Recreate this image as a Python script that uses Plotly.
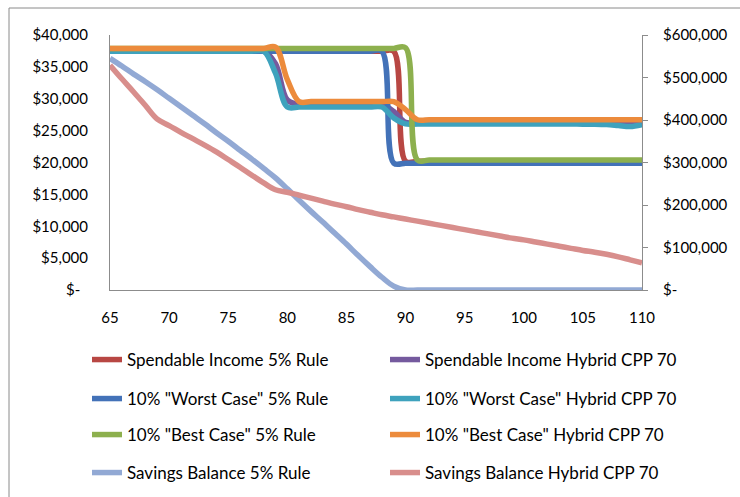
import plotly.graph_objects as go

ages = list(range(65, 111))

# Spendable income lines (left axis, $)
spend_5 = [37450, 37450, 37450, 37450, 37450, 37450, 37450, 37450, 37450, 37450,
           37450, 37450, 37450, 37450, 37450, 37450, 37450, 37450, 37450, 37450,
           37450, 37450, 37450, 37450, 37450, 20200, 20200, 20200, 20200, 20200,
           20200, 20200, 20200, 20200, 20200, 20200, 20200, 20200, 20200, 20200,
           20200, 20200, 20200, 20200, 20200, 20200]
spend_hyb = [37450, 37450, 37450, 37450, 37450, 37450, 37450, 37450, 37450, 37450,
             37450, 37450, 37450, 37450, 35500, 29800, 29100, 29100, 29100, 29100,
             29100, 29100, 29100, 29100, 28000, 26300, 26300, 26300, 26300, 26300,
             26300, 26300, 26300, 26300, 26300, 26300, 26300, 26300, 26300, 26300,
             26300, 26300, 26300, 26300, 26300, 26300]
worst_5 = [37450, 37450, 37450, 37450, 37450, 37450, 37450, 37450, 37450, 37450,
           37450, 37450, 37450, 37450, 37450, 37450, 37450, 37450, 37450, 37450,
           37450, 37450, 37450, 37450, 19900, 19900, 19900, 19900, 19900, 19900,
           19900, 19900, 19900, 19900, 19900, 19900, 19900, 19900, 19900, 19900,
           19900, 19900, 19900, 19900, 19900, 19900]
worst_hyb = [37450, 37450, 37450, 37450, 37450, 37450, 37450, 37450, 37450, 37450,
             37450, 37450, 37450, 37450, 34000, 28700, 28700, 28700, 28700, 28700,
             28700, 28700, 28700, 28700, 27000, 26050, 26050, 26050, 26050, 26050,
             26050, 26050, 26050, 26050, 26050, 26050, 26050, 26050, 26050, 26050,
             26000, 26000, 25950, 25800, 25650, 25950]
best_5 = [37900, 37900, 37900, 37900, 37900, 37900, 37900, 37900, 37900, 37900,
          37900, 37900, 37900, 37900, 37900, 37900, 37900, 37900, 37900, 37900,
          37900, 37900, 37900, 37900, 37900, 38000, 20400, 20400, 20400, 20400,
          20400, 20400, 20400, 20400, 20400, 20400, 20400, 20400, 20400, 20400,
          20400, 20400, 20400, 20400, 20400, 20400]
best_hyb = [37900, 37900, 37900, 37900, 37900, 37900, 37900, 37900, 37900, 37900,
            37900, 37900, 37900, 37900, 38100, 33000, 29550, 29550, 29550, 29550,
            29550, 29550, 29550, 29550, 29550, 28300, 26700, 26700, 26700, 26700,
            26700, 26700, 26700, 26700, 26700, 26700, 26700, 26700, 26700, 26700,
            26700, 26700, 26700, 26700, 26700, 26700]

# Savings balances (right axis, $)
savings_5 = [545000, 527000, 508000, 490000, 471000, 451000, 431000, 411000, 391000, 370000,
             350000, 329000, 308000, 286000, 264000, 238000, 211000, 185000, 160000, 134000,
             108000, 81000, 55000, 30000, 9000, 0, 0, 0, 0, 0,
             0, 0, 0, 0, 0, 0, 0, 0, 0, 0,
             0, 0, 0, 0, 0, 0]
savings_hyb = [529000, 497000, 466000, 434000, 402000, 387000, 371000, 356000, 341000, 325000,
               307000, 289000, 270000, 252000, 236000, 230000, 223000, 216000, 209000, 202000,
               196000, 189000, 183000, 177000, 172000, 167000, 162000, 157000, 152000, 147000,
               142000, 137000, 132000, 127000, 122000, 118000, 113000, 108000, 103000, 98000,
               93000, 89000, 84000, 78000, 71000, 64000]

names = ['Spendable Income 5% Rule', 'Spendable Income Hybrid CPP 70',
         '10% "Worst Case" 5% Rule', '10% "Worst Case" Hybrid CPP 70',
         '10% "Best Case" 5% Rule', '10% "Best Case" Hybrid CPP 70',
         'Savings Balance 5% Rule', 'Savings Balance Hybrid CPP 70']
colors = ['#B84743', '#755A9E', '#4372B8', '#3EA2BD',
          '#8DB04E', '#EC8B3C', '#92A9D4', '#D88E8C']

left_tickvals = [0, 5000, 10000, 15000, 20000, 25000, 30000, 35000, 40000]
left_ticktext = ['$-\u00a0\u00a0', '$5,000', '$10,000', '$15,000', '$20,000',
                 '$25,000', '$30,000', '$35,000', '$40,000']
right_tickvals = [0, 100000, 200000, 300000, 400000, 500000, 600000]
right_ticktext = ['$-', '$100,000', '$200,000', '$300,000', '$400,000',
                  '$500,000', '$600,000']
x_tickvals = [65, 70, 75, 80, 85, 90, 95, 100, 105, 110]

series = [spend_5, spend_hyb, worst_5, worst_hyb, best_5, best_hyb, savings_5, savings_hyb]
axes = ['y', 'y', 'y', 'y', 'y', 'y', 'y2', 'y2']

FONT = 'Lato'
W, H = 740, 497
L, R, T, B = 110, 98, 35, 207
pw, ph = W - L - R, H - T - B

def px_x(p):
    return (p - L) / pw

def px_y(p):
    return (H - B - p) / ph

fig = go.Figure()
legend_names = ['legend', 'legend2', 'legend3', 'legend4',
                'legend5', 'legend6', 'legend7', 'legend8']
for i, (nm, col, ys, ax) in enumerate(zip(names, colors, series, axes)):
    fig.add_trace(go.Scatter(
        x=ages, y=ys, name=nm, yaxis=ax, mode='lines',
        line=dict(color=col, width=5.5, shape='spline', smoothing=1.0),
        legend=legend_names[i], hoverinfo='skip'))

col_x = [87, 385]
row_y = [360, 399, 435, 473]
for i, ln in enumerate(legend_names):
    r, c = divmod(i, 2)
    fig.update_layout({ln: dict(
        xref='container', yref='container',
        x=col_x[c] / W, y=1 - row_y[r] / H, xanchor='left', yanchor='middle',
        font=dict(family=FONT, size=17, color='#000'),
        bgcolor='rgba(0,0,0,0)', borderwidth=0)})

axis_font = dict(family=FONT, size=15, color='#000')
fig.update_layout(
    width=W, height=H,
    margin=dict(l=L, r=R, t=T, b=B, pad=0, autoexpand=False),
    paper_bgcolor='white', plot_bgcolor='white',
    showlegend=True,
    xaxis=dict(range=[65, 110], tickvals=x_tickvals, showgrid=False, zeroline=False,
               showline=True, linecolor='#8C8C8C', linewidth=1, ticks='',
               tickfont=axis_font, ticklabelstandoff=14, fixedrange=True,
               automargin=False),
    yaxis=dict(range=[0, 40000], tickvals=left_tickvals, ticktext=left_ticktext,
               showgrid=False, zeroline=False, showline=True, linecolor='#8C8C8C',
               linewidth=1, ticks='', tickfont=axis_font, ticklabelstandoff=18,
               automargin=False),
    yaxis2=dict(range=[0, 600000], tickvals=right_tickvals, ticktext=right_ticktext,
                overlaying='y', side='right', anchor='x', showgrid=False, zeroline=False,
                showline=True, linecolor='#8C8C8C', linewidth=1, ticks='outside',
                ticklen=5, tickcolor='#8C8C8C', tickfont=axis_font, ticklabelstandoff=12,
                automargin=False),
    shapes=[dict(type='rect', xref='paper', yref='paper',
                 x0=px_x(9), x1=px_x(W + 200), y0=px_y(H + 200), y1=px_y(8),
                 line=dict(color='#8A8A8A', width=1), fillcolor='rgba(0,0,0,0)',
                 layer='below')],
)

fig.write_html('out.html',
               config={'displayModeBar': False, 'staticPlot': True},
               post_script="document.body.style.margin='0';document.body.style.padding='0';"
                           "document.body.style.overflow='hidden';")
